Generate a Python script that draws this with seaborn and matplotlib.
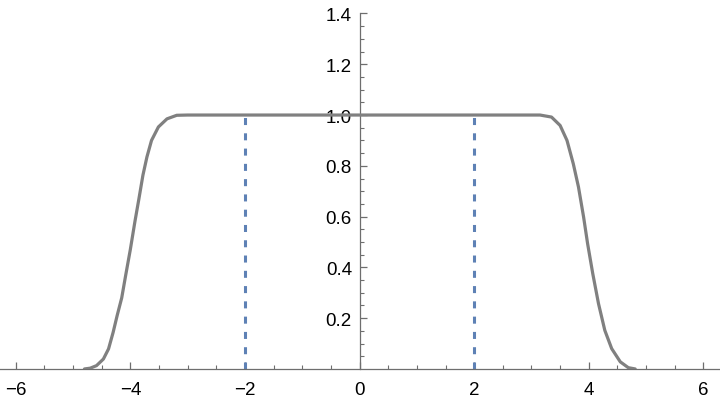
import matplotlib.pyplot as plt
import matplotlib.patches as mpatches
import seaborn as sns
import pandas as pd

# smooth plateau curve
left_x = [-4.80, -4.70, -4.59, -4.47, -4.38, -4.30, -4.23, -4.15, -4.08, -4.00,
          -3.92, -3.85, -3.78, -3.71, -3.63, -3.51, -3.36, -3.19, -3.00]
left_y = [0.0, 0.003, 0.013, 0.039, 0.079, 0.144, 0.21, 0.28, 0.37, 0.47,
          0.58, 0.67, 0.763, 0.835, 0.90, 0.953, 0.985, 0.999, 1.0]
right_x = [3.00, 3.15, 3.35, 3.50, 3.62, 3.73, 3.82, 3.91, 3.98, 4.07,
           4.17, 4.28, 4.40, 4.55, 4.69, 4.81]
right_y = [1.0, 1.0, 0.992, 0.959, 0.90, 0.808, 0.717, 0.598, 0.493, 0.375,
           0.257, 0.152, 0.080, 0.028, 0.005, 0.0]

# dashed markers
cut_x = [-2, 2]
cut_top = 1.0

x_ticks = [-6, -4, -2, 0, 2, 4, 6]
y_ticks = [0.2, 0.4, 0.6, 0.8, 1.0, 1.2, 1.4]

sns.set_style("white")
plt.rcParams['font.family'] = ['Liberation Sans', 'DejaVu Sans']

fig = plt.figure(figsize=(7.2, 4.06), dpi=100)
ax = fig.add_axes([0, 0, 1, 1])

df = pd.DataFrame({"x": left_x + right_x, "y": left_y + right_y})
sns.lineplot(data=df, x="x", y="y", color="#808080", linewidth=2.3, ax=ax,
             estimator=None, sort=False, zorder=3, solid_joinstyle="round")

ax.set_xlim(-6.274, 6.29)
ax.set_ylim(-0.142, 1.457)

# hide the part of the curve below the x axis, like the original plot range
clip = mpatches.Rectangle((-6.274, 0), 12.6, 1.5, transform=ax.transData)
ax.lines[-1].set_clip_path(clip)

ax.vlines(cut_x, 0, cut_top, colors="#5E81B5", linewidth=2.2,
          linestyles=(0, (2.3, 2.7)), zorder=2)

# Mathematica-style axes through the origin
for side in ["top", "right"]:
    ax.spines[side].set_visible(False)
ax.spines["left"].set_position(("data", 0))
ax.spines["bottom"].set_position(("data", 0))
ax.spines["left"].set_bounds(0, 1.4)
for side in ["left", "bottom"]:
    ax.spines[side].set_color("#6e6e6e")
    ax.spines[side].set_linewidth(0.9)

ax.set_xticks(x_ticks)
ax.set_yticks(y_ticks)
ax.set_xticklabels([str(t) if t >= 0 else "\u2212" + str(-t) for t in x_ticks])
ax.set_yticklabels([f"{t:.1f}" for t in y_ticks])
ax.set_xticks([i * 0.5 for i in range(-12, 13) if i % 4 != 0], minor=True)
ax.set_yticks([i * 0.05 for i in range(1, 29) if i % 4 != 0], minor=True)

ax.tick_params(axis="both", which="both", bottom=True, left=True)
ax.tick_params(axis="both", which="major", direction="in", length=5, width=0.9,
               color="#6e6e6e", labelsize=13.5, labelcolor="black")
ax.tick_params(axis="both", which="minor", direction="in", length=3, width=0.8,
               color="#6e6e6e")
ax.tick_params(axis="x", which="major", pad=9)
ax.tick_params(axis="y", which="major", pad=5.5)

ax.set_xlabel("")
ax.set_ylabel("")
ax.grid(False)

fig.savefig("out.png", dpi=100)
